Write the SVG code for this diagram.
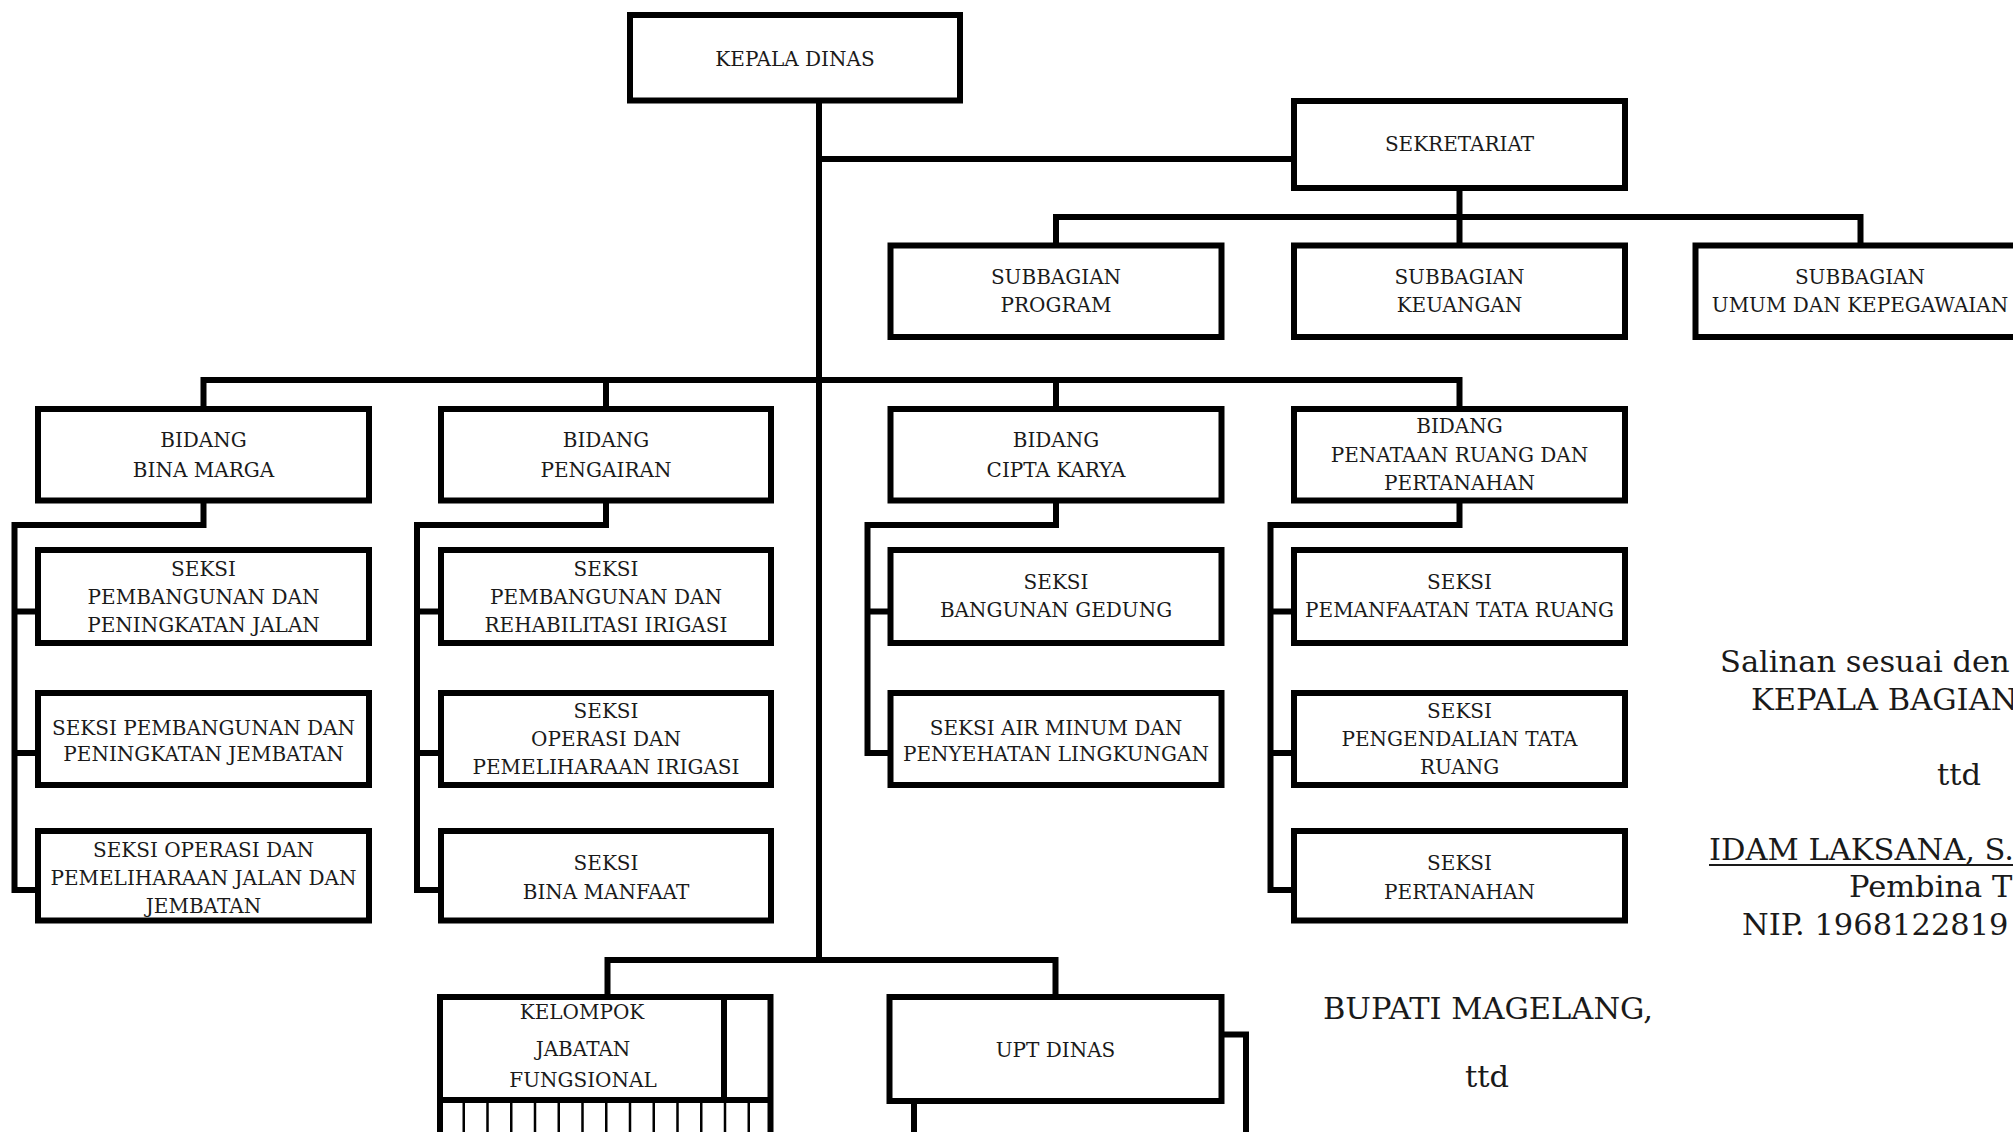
<svg xmlns="http://www.w3.org/2000/svg" width="2013" height="1132" viewBox="0 0 2013 1132">
<style>
.box{fill:#fff;stroke:#000;stroke-width:6}
.ln{fill:none;stroke:#000;stroke-width:6;stroke-linejoin:miter;stroke-linecap:square}
.thin{fill:none;stroke:#000;stroke-width:2.5}
.t{font-family:"DejaVu Serif",serif;font-size:20px;text-anchor:middle;fill:#1a1a1a}
.sig{font-family:"DejaVu Serif",serif;font-size:30.5px;fill:#1a1a1a}
.sigc{font-family:"DejaVu Serif",serif;font-size:30.5px;fill:#1a1a1a;text-anchor:middle}
</style>
<rect width="2013" height="1132" fill="#fff"/>
<g id="connectors">
<path class="ln" d="M819 100 V960"/>
<path class="ln" d="M819 159 H1294"/>
<path class="ln" d="M1459.5 188 V217 M1056 217 H1860.5 M1056 217 V245.5 M1459.5 217 V245.5 M1860.5 217 V245.5"/>
<path class="ln" d="M203.5 380 H1459.5 M203.5 380 V409 M606 380 V409 M1056 380 V409 M1459.5 380 V409"/>
<path class="ln" d="M203.5 500.5 V525 H14.5 V890 M14.5 611.5 H38 M14.5 753 H38 M14.5 890 H38"/>
<path class="ln" d="M606 500.5 V525 H417 V890 M417 611.5 H441 M417 753 H441 M417 890 H441"/>
<path class="ln" d="M1056 500.5 V525 H867.5 V753 M867.5 611.5 H890.5 M867.5 753 H890.5"/>
<path class="ln" d="M1459.5 500.5 V525 H1270.5 V890 M1270.5 611.5 H1294 M1270.5 753 H1294 M1270.5 890 H1294"/>
<path class="ln" d="M607.5 997 V960 H1055.5 V997"/>
</g>
<g id="kepala"><rect class="box" x="630" y="15" width="330" height="85.5"/><text class="t" x="795" y="65.5">KEPALA DINAS</text></g>
<g id="sekretariat"><rect class="box" x="1294" y="101" width="331" height="87"/><text class="t" x="1459.5" y="151">SEKRETARIAT</text></g>
<g id="sub-program"><rect class="box" x="890.5" y="245.5" width="331" height="91.5"/><text class="t" x="1056" y="283.5">SUBBAGIAN</text><text class="t" x="1056" y="312">PROGRAM</text></g>
<g id="sub-keuangan"><rect class="box" x="1294" y="245.5" width="331" height="91.5"/><text class="t" x="1459.5" y="283.5">SUBBAGIAN</text><text class="t" x="1459.5" y="312">KEUANGAN</text></g>
<g id="sub-umum"><rect class="box" x="1695.5" y="245.5" width="331" height="91.5"/><text class="t" x="1860" y="283.5">SUBBAGIAN</text><text class="t" x="1860" y="312">UMUM DAN KEPEGAWAIAN</text></g>
<g id="bid-binamarga"><rect class="box" x="38" y="409" width="331" height="91.5"/><text class="t" x="203.5" y="447">BIDANG</text><text class="t" x="203.5" y="476.5">BINA MARGA</text></g>
<g id="bid-pengairan"><rect class="box" x="441" y="409" width="330" height="91.5"/><text class="t" x="606" y="447">BIDANG</text><text class="t" x="606" y="476.5">PENGAIRAN</text></g>
<g id="bid-ciptakarya"><rect class="box" x="890.5" y="409" width="331" height="91.5"/><text class="t" x="1056" y="447">BIDANG</text><text class="t" x="1056" y="476.5">CIPTA KARYA</text></g>
<g id="bid-penataan"><rect class="box" x="1294" y="409" width="331" height="91.5"/><text class="t" x="1459.5" y="433">BIDANG</text><text class="t" x="1459.5" y="461.5">PENATAAN RUANG DAN</text><text class="t" x="1459.5" y="490">PERTANAHAN</text></g>
<g id="bm-1"><rect class="box" x="38" y="550" width="331" height="93"/><text class="t" x="203.5" y="575.5">SEKSI</text><text class="t" x="203.5" y="604">PEMBANGUNAN DAN</text><text class="t" x="203.5" y="632">PENINGKATAN JALAN</text></g>
<g id="bm-2"><rect class="box" x="38" y="693" width="331" height="92"/><text class="t" x="203.5" y="734.5">SEKSI PEMBANGUNAN DAN</text><text class="t" x="203.5" y="761">PENINGKATAN JEMBATAN</text></g>
<g id="bm-3"><rect class="box" x="38" y="831" width="331" height="89.5"/><text class="t" x="203.5" y="857">SEKSI OPERASI DAN</text><text class="t" x="203.5" y="885">PEMELIHARAAN JALAN DAN</text><text class="t" x="203.5" y="913">JEMBATAN</text></g>
<g id="pg-1"><rect class="box" x="441" y="550" width="330" height="93"/><text class="t" x="606" y="575.5">SEKSI</text><text class="t" x="606" y="604">PEMBANGUNAN DAN</text><text class="t" x="606" y="632">REHABILITASI IRIGASI</text></g>
<g id="pg-2"><rect class="box" x="441" y="693" width="330" height="92"/><text class="t" x="606" y="717.5">SEKSI</text><text class="t" x="606" y="746">OPERASI DAN</text><text class="t" x="606" y="774">PEMELIHARAAN IRIGASI</text></g>
<g id="pg-3"><rect class="box" x="441" y="831" width="330" height="89.5"/><text class="t" x="606" y="870">SEKSI</text><text class="t" x="606" y="898.5">BINA MANFAAT</text></g>
<g id="ck-1"><rect class="box" x="890.5" y="550" width="331" height="93"/><text class="t" x="1056" y="589">SEKSI</text><text class="t" x="1056" y="617">BANGUNAN GEDUNG</text></g>
<g id="ck-2"><rect class="box" x="890.5" y="693" width="331" height="92"/><text class="t" x="1056" y="734.5">SEKSI AIR MINUM DAN</text><text class="t" x="1056" y="761">PENYEHATAN LINGKUNGAN</text></g>
<g id="pn-1"><rect class="box" x="1294" y="550" width="331" height="93"/><text class="t" x="1459.5" y="589">SEKSI</text><text class="t" x="1459.5" y="617">PEMANFAATAN TATA RUANG</text></g>
<g id="pn-2"><rect class="box" x="1294" y="693" width="331" height="92"/><text class="t" x="1459.5" y="717.5">SEKSI</text><text class="t" x="1459.5" y="746">PENGENDALIAN TATA</text><text class="t" x="1459.5" y="774">RUANG</text></g>
<g id="pn-3"><rect class="box" x="1294" y="831" width="331" height="89.5"/><text class="t" x="1459.5" y="870">SEKSI</text><text class="t" x="1459.5" y="898.5">PERTANAHAN</text></g>
<g id="kelompok">
<path class="thin" d="M463.75 1100 V1140 M487.5 1100 V1140 M511.25 1100 V1140 M535 1100 V1140 M558.75 1100 V1140 M582.5 1100 V1140 M606.25 1100 V1140 M630 1100 V1140 M653.75 1100 V1140 M677.5 1100 V1140 M701.25 1100 V1140 M725 1100 V1140 M748.75 1100 V1140"/>
<path class="ln" d="M440 1140 V997 H770.5 V1140 M440 1100 H770.5 M724 997 V1100"/>
<text class="t" x="582" y="1019">KELOMPOK</text><text class="t" x="583" y="1056">JABATAN</text><text class="t" x="583" y="1087">FUNGSIONAL</text>
</g>
<g id="upt">
<rect class="box" x="914" y="1034.5" width="332" height="104"/>
<rect class="box" x="889.5" y="997" width="332" height="104"/>
<text class="t" x="1055.5" y="1056.5">UPT DINAS</text>
</g>
<g id="signature">
<text class="sigc" x="1488" y="1019">BUPATI MAGELANG,</text>
<text class="sigc" x="1487" y="1086.5">ttd</text>
<text class="sig" x="1720" y="672">Salinan sesuai den</text>
<text class="sig" x="1751" y="710">KEPALA BAGIAN</text>
<text class="sig" x="1937" y="785">ttd</text>
<text class="sig" x="1709" y="860">IDAM LAKSANA, S.</text>
<line x1="1709" y1="865" x2="2013" y2="865" stroke="#1a1a1a" stroke-width="2"/>
<text class="sig" x="1849" y="897">Pembina T</text>
<text class="sig" x="1742" y="935">NIP. 1968122819</text>
</g>
</svg>
